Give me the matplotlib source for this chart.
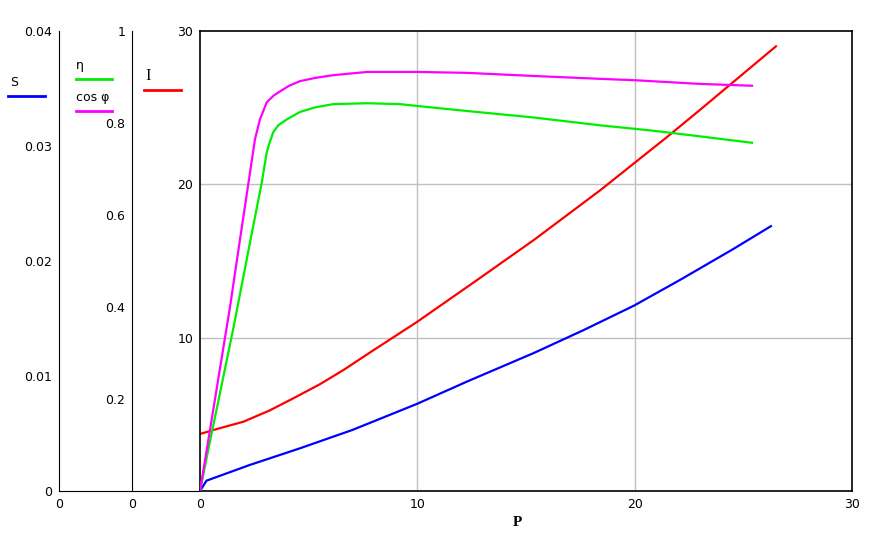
import matplotlib
matplotlib.use("Agg")
import matplotlib.pyplot as plt
from matplotlib.lines import Line2D

# ---- data ----
P_S = [0, 0.3, 2.3, 4.61, 7.0, 9.99, 12.29, 15.36, 17.66, 19.97, 22.12, 24.5, 26.27]
S = [0.0, 0.0009, 0.00227, 0.00372, 0.0053, 0.00758, 0.00952, 0.0120, 0.0140, 0.01612,
     0.01839, 0.0210, 0.02303]

P_I = [0, 0.77, 2.0, 3.2, 4.3, 5.5, 6.6, 8.0, 10.0, 12.75, 15.36, 18.43, 19.97, 21.5,
       23.0, 24.56, 26.5]
I = [3.72, 4.04, 4.52, 5.25, 6.05, 6.95, 7.89, 9.2, 11.04, 13.76, 16.37, 19.63, 21.37,
     23.1, 24.85, 26.7, 29.0]

P_eta = [0, 0.46, 0.61, 1.54, 2.3, 2.84, 3.07, 3.2, 3.37, 3.6, 4.0, 4.6, 5.3, 6.13, 7.7,
         9.2, 10.0, 12.3, 15.35, 18.4, 20.7, 23.0, 25.4]
eta = [0.0, 0.108, 0.142, 0.355, 0.540, 0.670, 0.736, 0.757, 0.78, 0.795, 0.808, 0.824,
       0.834, 0.841, 0.843, 0.841, 0.837, 0.826, 0.812, 0.795, 0.784, 0.771, 0.757]

P_cos = [0, 0.46, 1.38, 1.84, 2.3, 2.53, 2.76, 3.07, 3.4, 3.69, 4.1, 4.6, 5.3, 6.13, 7.7,
         10.0, 12.3, 15.0, 18.4, 20.0, 23.0, 25.4]
cosphi = [0.0, 0.133, 0.40, 0.547, 0.692, 0.765, 0.808, 0.845, 0.860, 0.869, 0.881, 0.891,
          0.898, 0.904, 0.911, 0.911, 0.909, 0.903, 0.896, 0.893, 0.885, 0.881]

W, H = 887, 539
fig = plt.figure(figsize=(W / 100, H / 100), dpi=100)
plt.rcParams['font.family'] = ['DejaVu Sans']

def box(x0, x1, y0=31, y1=491):
    return [x0 / W, (H - y1) / H, (x1 - x0) / W, (y1 - y0) / H]

fs = 9
# S axis
axS = fig.add_axes(box(59, 132))
axS.set_xlim(0, 1)
axS.set_ylim(0, 0.04)
axS.set_yticks([0, 0.01, 0.02, 0.03, 0.04])
axS.set_yticklabels(["0", "0.01", "0.02", "0.03", "0.04"])
axS.set_xticks([0])
axS.set_xticklabels(["0"])
for s in ["top", "right"]:
    axS.spines[s].set_visible(False)
axS.tick_params(length=0, labelsize=fs, pad=5)
axS.patch.set_alpha(0)

# eta / cos axis
axE = fig.add_axes(box(132, 200))
axE.set_xlim(0, 1)
axE.set_ylim(0, 1)
axE.set_yticks([0.2, 0.4, 0.6, 0.8, 1.0])
axE.set_yticklabels(["0.2", "0.4", "0.6", "0.8", "1"])
axE.set_xticks([0])
axE.set_xticklabels(["0"])
for s in ["top", "right"]:
    axE.spines[s].set_visible(False)
axE.tick_params(length=0, labelsize=fs, pad=5)
axE.patch.set_alpha(0)

# main axis
ax = fig.add_axes(box(200, 852))
ax.set_xlim(0, 30)
ax.set_ylim(0, 30)
ax.set_xticks([0, 10, 20, 30])
ax.set_yticks([10, 20, 30])
ax.tick_params(length=0, labelsize=fs, pad=5)
for v in [10, 20]:
    ax.axvline(v, color="#c0c0c0", lw=1, zorder=0)
    ax.axhline(v, color="#c0c0c0", lw=1, zorder=0)
for s in ax.spines.values():
    s.set_linewidth(1.2)

ax2 = ax.twinx()
ax2.set_ylim(0, 0.04)
ax2.axis("off")
ax3 = ax.twinx()
ax3.set_ylim(0, 1)
ax3.axis("off")

lw = 1.6
ax2.plot(P_S, S, color="#0000ff", lw=lw)
ax.plot(P_I, I, color="#ff0000", lw=lw)
ax3.plot(P_eta, eta, color="#00ee00", lw=lw)
ax3.plot(P_cos, cosphi, color="#ff00ff", lw=lw)

fig.text(517 / W, 1 - 523 / H, "P", family="Liberation Serif", weight="bold",
         fontsize=11, ha="center", va="center")

# legend-like labels
def ftext(x, y, s, size=fs, **kw):
    fig.text(x / W, 1 - y / H, s, fontsize=size, va="center", **kw)

def fline(x0, x1, y, c):
    fig.add_artist(Line2D([x0 / W, x1 / W], [1 - y / H, 1 - y / H], color=c, lw=2,
                          transform=fig.transFigure))

ftext(10, 82, "S")
fline(8, 45, 96, "#0000ff")
ftext(76, 66, "η")
fline(76, 112, 79, "#00ee00")
ftext(76, 97, "cos φ")
fline(76, 112, 111, "#ff00ff")
ftext(145, 76, "I", size=12, family="Liberation Serif")
fline(144, 181, 90, "#ff0000")

fig.savefig("out.png", dpi=100)
